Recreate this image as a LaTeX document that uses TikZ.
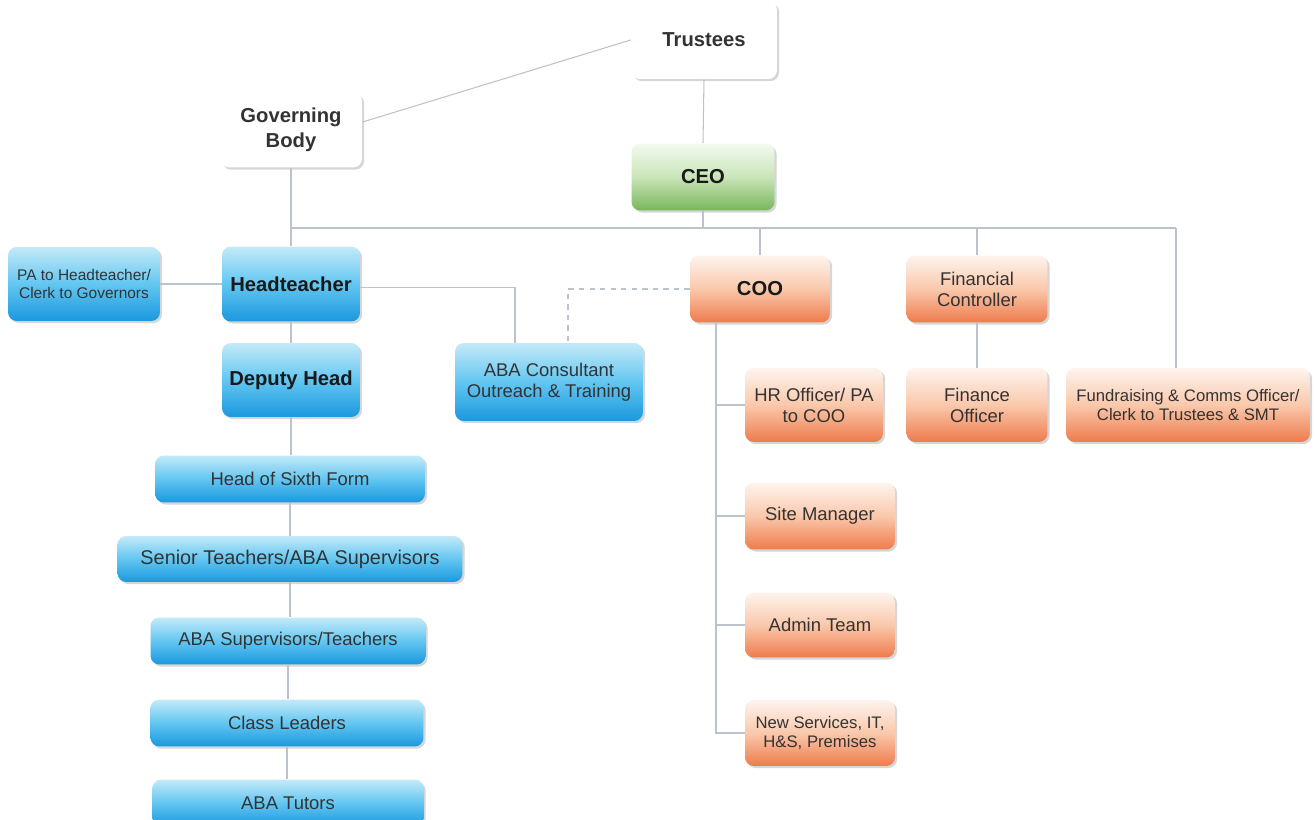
\documentclass[tikz,border=0pt]{standalone}
\usepackage{fontspec}
\setmainfont{Liberation Sans}
\usetikzlibrary{shadows}
\definecolor{linkgray}{HTML}{BCC2CE}
\definecolor{bluetop}{HTML}{C4EAF9}
\definecolor{bluemid}{HTML}{62C6F1}
\definecolor{bluebot}{HTML}{1A98DE}
\definecolor{orangetop}{HTML}{FEF4EE}
\definecolor{orangemid}{HTML}{FAC8AB}
\definecolor{orangebot}{HTML}{EE7B4C}
\definecolor{greentop}{HTML}{F3FAEF}
\definecolor{greenmid}{HTML}{C9E5B8}
\definecolor{greenbot}{HTML}{78B65B}
\begin{document}
\begin{tikzpicture}[x=0.02cm, y=-0.02cm,
  box/.style={rounded corners=5pt, align=center, inner sep=2pt, text=black!80,
    font=\fontsize{10.5}{12}\selectfont,
    drop shadow={shadow xshift=1.2pt, shadow yshift=-1.2pt, fill=gray!45, opacity=0.7}},
  plainbox/.style={box, fill=white, font=\fontsize{11.5}{14}\selectfont\bfseries},
  bluebox/.style={box, top color=bluetop, bottom color=bluebot, middle color=bluemid},
  orangebox/.style={box, top color=orangetop, bottom color=orangebot, middle color=orangemid},
  greenbox/.style={box, top color=greentop, bottom color=greenbot, middle color=greenmid},
  bold/.style={font=\fontsize{11.5}{14}\selectfont\bfseries, text=black!90},
  smalltext/.style={font=\fontsize{9.5}{11}\selectfont},
  link/.style={draw=linkgray, line width=0.6pt},
  dotlink/.style={link, dashed}]
  \useasboundingbox[fill=white] (0,0) rectangle (1316,820);

  \node[plainbox, minimum width=2.92cm, minimum height=1.56cm] (trustees) at (704,40) {Trustees};
  \node[plainbox, minimum width=2.84cm, minimum height=1.5cm] (gov) at (291,130) {Governing\\Body};
  \node[greenbox, bold, minimum width=2.86cm, minimum height=1.34cm] (ceo) at (703,177) {CEO};

  \node[bluebox, font=\fontsize{8.8}{10.5}\selectfont, minimum width=3.04cm, minimum height=1.48cm] (pa) at (84,284) {PA to Headteacher/\\Clerk to Governors};
  \node[bluebox, bold, minimum width=2.76cm, minimum height=1.5cm] (head) at (291,284) {Headteacher};
  \node[bluebox, bold, minimum width=2.76cm, minimum height=1.48cm] (deputy) at (291,380) {Deputy Head};
  \node[bluebox, minimum width=3.76cm, minimum height=1.56cm] (abacons) at (549,382) {ABA Consultant\\Outreach \& Training};
  \node[bluebox, minimum width=5.4cm, minimum height=0.94cm] (sixth) at (290,479) {Head of Sixth Form};
  \node[bluebox, font=\fontsize{11.3}{13}\selectfont, minimum width=6.9cm, minimum height=0.92cm] (senior) at (290,559) {Senior Teachers/ABA Supervisors};
  \node[bluebox, minimum width=5.5cm, minimum height=0.94cm] (abasup) at (288,641) {ABA Supervisors/Teachers};
  \node[bluebox, minimum width=5.46cm, minimum height=0.94cm] (class) at (287,723) {Class Leaders};
  \node[bluebox, minimum width=5.42cm, minimum height=0.94cm] (tutors) at (288,803) {ABA Tutors};

  \node[orangebox, bold, minimum width=2.8cm, minimum height=1.34cm] (coo) at (760,289) {COO};
  \node[orangebox, minimum width=2.82cm, minimum height=1.34cm] (fc) at (977,289) {Financial\\Controller};
  \node[orangebox, minimum width=2.76cm, minimum height=1.48cm] (hr) at (814,405) {HR Officer/ PA\\to COO};
  \node[orangebox, minimum width=2.82cm, minimum height=1.48cm] (fo) at (977,405) {Finance\\Officer};
  \node[orangebox, smalltext, minimum width=4.88cm, minimum height=1.48cm] (fund) at (1188,405) {Fundraising \& Comms Officer/\\Clerk to Trustees \& SMT};
  \node[orangebox, minimum width=3cm, minimum height=1.34cm] (site) at (820,516) {Site Manager};
  \node[orangebox, minimum width=3cm, minimum height=1.3cm] (admin) at (820,625) {Admin Team};
  \node[orangebox, smalltext, minimum width=3cm, minimum height=1.32cm] (newserv) at (820,733) {New Services, IT,\\H\&S, Premises};

  \coordinate (busL) at (291,228);
  \coordinate (busR) at (1176,228);
  \coordinate (trunk) at (716,322);

  \draw[link] ([yshift=4.5pt]gov.east) -- (trustees.west);
  \draw[link] (trustees.south) -- (ceo.north);
  \draw[link] (gov.south) -- (head.north);
  \draw[link] (busL) -- (busR);
  \draw[link] (ceo.south) -- (ceo.south |- busL);
  \draw[link] (coo.north) -- (coo.north |- busL);
  \draw[link] (fc.north) -- (fc.north |- busL);
  \draw[link] (busR) -- (busR |- fund.north);
  \draw[link] (pa.east) -- (pa.east -| head.west);
  \draw[link] ([yshift=-2pt]head.east) -| ([xshift=-0.68cm]abacons.north);
  \draw[dotlink] (coo.west) -| ([xshift=0.38cm]abacons.north);
  \foreach \a/\b in {head/deputy, deputy/sixth, sixth/senior, senior/abasup, abasup/class, class/tutors}
    \draw[link] (\a.south) -- (\a.south |- \b.north);
  \draw[link] (fc.south) -- (fo.north);
  \draw[link] (trunk) |- (newserv.west);
  \foreach \n in {hr, site, admin}
    \draw[link] (trunk |- \n.west) -- (\n.west);
\end{tikzpicture}
\end{document}
